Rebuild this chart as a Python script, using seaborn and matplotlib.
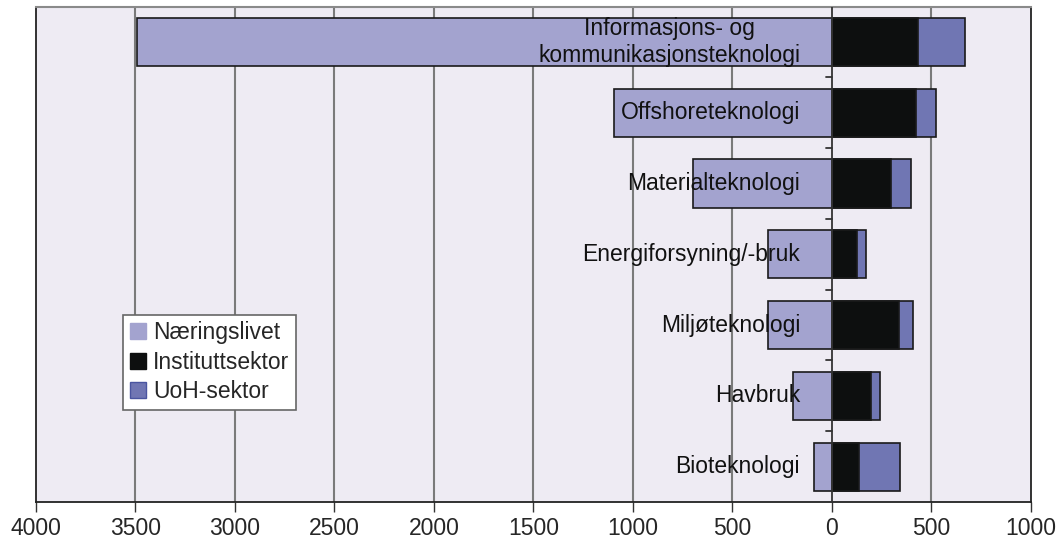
import pandas as pd
import matplotlib
matplotlib.use("Agg")
import matplotlib.pyplot as plt
import seaborn as sns
from matplotlib.patches import Patch
from matplotlib.ticker import FuncFormatter

# data (FoU-årsverk per teknologiområde)
categories = ["Informasjons- og\nkommunikasjonsteknologi", "Offshoreteknologi",
              "Materialteknologi", "Energiforsyning/-bruk", "Miljøteknologi",
              "Havbruk", "Bioteknologi"]
naeringslivet = [3490, 1095, 700, 322, 322, 196, 91]
institutt = [433, 423, 297, 126, 337, 196, 136]
uoh = [237, 101, 101, 45, 71, 46, 206]

c_naer = "#A3A3CF"
c_inst = "#0D0F0F"
c_uoh = "#7076B3"
bg = "#EEEBF3"

df = pd.DataFrame({"kat": categories, "naer": naeringslivet,
                   "inst": institutt, "uoh": uoh})
df["hoyre"] = df["inst"] + df["uoh"]
df["venstre"] = -df["naer"]

sns.set_style("white")
plt.rcParams["font.family"] = ["Liberation Sans", "DejaVu Sans"]

fig = plt.figure(figsize=(10.59, 5.46), dpi=100)
ax = fig.add_axes([0.034, 0.0806, 0.9395, 0.9074])
ax.set_facecolor(bg)

kw = dict(orient="h", saturation=1, width=0.68, edgecolor="#1a1a1a", linewidth=1.2, ax=ax)
sns.barplot(data=df, x="hoyre", y="kat", color=c_uoh, **kw)
sns.barplot(data=df, x="inst", y="kat", color=c_inst, **kw)
sns.barplot(data=df, x="venstre", y="kat", color=c_naer, **kw)

ax.set_xlim(-4000, 1000)
ax.set_ylim(len(categories) - 0.5, -0.5)
ax.set_xticks(range(-4000, 1001, 500))
ax.xaxis.set_major_formatter(FuncFormatter(lambda v, p: f"{abs(int(v))}"))
ax.tick_params(axis="x", bottom=True, direction="out", length=7, width=1,
               color="#333333", labelsize=16.5, pad=4)
ax.set_yticks([])
ax.set_xlabel("")
ax.set_ylabel("")

ax.grid(False)
for v in range(-3500, 1000, 500):
    if v != 0:
        ax.axvline(v, color="#7a7a7a", lw=1.5, zorder=0.5)
ax.axvline(0, color="#333333", lw=1.3, zorder=3)
for b in range(len(categories) - 1):
    ax.plot([-30, 0], [b + 0.5, b + 0.5], color="#333333", lw=1.3, zorder=3)

for i, k in enumerate(categories):
    ax.text(-160, i, k, ha="right", va="center", fontsize=16.5,
            multialignment="center", color="#111111", zorder=4)

for s in ["left", "right", "bottom"]:
    ax.spines[s].set_color("#222222")
    ax.spines[s].set_linewidth(1.3)
ax.spines["top"].set_color("#8a8a8a")
ax.spines["top"].set_linewidth(1.5)

handles = [Patch(facecolor=c_naer, edgecolor=c_naer),
           Patch(facecolor=c_inst, edgecolor=c_inst),
           Patch(facecolor=c_uoh, edgecolor="#4a55a0")]
leg = ax.legend(handles, ["Næringslivet", "Instituttsektor", "UoH-sektor"],
                loc="lower left", bbox_to_anchor=(0.0874, 0.1855), fontsize=16.5,
                frameon=True, fancybox=False, framealpha=1, edgecolor="#666666",
                handlelength=0.7, handleheight=0.7, handletextpad=0.3,
                labelspacing=0.28, borderpad=0.3, borderaxespad=0)
leg.get_frame().set_linewidth(1.2)

fig.savefig("out.png", dpi=100)
